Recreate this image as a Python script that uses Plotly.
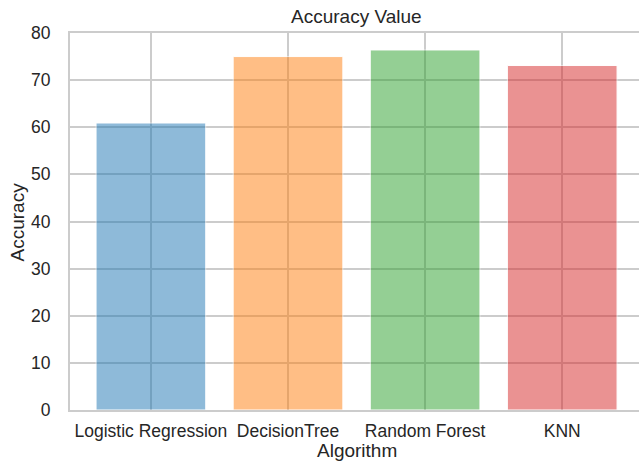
import plotly.graph_objects as go

algorithms = ["Logistic Regression", "DecisionTree", "Random Forest", "KNN"]
accuracy = [60.9, 75.0, 76.4, 73.1]
bar_colors = ["#1f77b4", "#ff7f0e", "#2ca02c", "#d62728"]
y_ticks = [0, 10, 20, 30, 40, 50, 60, 70, 80]

TEXT = "#262626"
GRID = "#cccccc"
FONT = "Liberation Sans, Arial, sans-serif"

fig = go.Figure(
    go.Bar(
        x=algorithms,
        y=accuracy,
        width=0.8,
        opacity=0.5,
        marker=dict(color=bar_colors, line=dict(color="white", width=1)),
    )
)

fig.update_layout(
    width=639,
    height=461,
    margin=dict(l=70, r=0, t=33, b=51),
    plot_bgcolor="white",
    paper_bgcolor="white",
    font=dict(family=FONT, color=TEXT, size=17.5),
    showlegend=False,
    annotations=[
        dict(text="Accuracy Value", xref="paper", yref="paper", x=0.504, y=1.0432,
             xanchor="center", yanchor="middle", showarrow=False,
             font=dict(size=19, color=TEXT, family=FONT)),
        dict(text="Algorithm", xref="paper", yref="paper", x=0.504, y=-0.107,
             xanchor="center", yanchor="middle", showarrow=False,
             font=dict(size=19, color=TEXT, family=FONT)),
        dict(text="Accuracy", xref="paper", yref="paper", x=-0.0914, y=0.5,
             xanchor="center", yanchor="middle", textangle=-90, showarrow=False,
             font=dict(size=19, color=TEXT, family=FONT)),
    ],
)

fig.update_xaxes(
    type="category",
    range=[-0.59, 3.56],
    showgrid=True,
    gridcolor=GRID,
    gridwidth=1.5,
    showline=True,
    linecolor=GRID,
    linewidth=2,
    mirror=True,
    ticks="",
    ticklabelstandoff=4,
    tickfont=dict(size=17.5, color=TEXT, family=FONT),
)

fig.update_yaxes(
    range=[0, 80],
    tickvals=y_ticks,
    showgrid=True,
    gridcolor=GRID,
    gridwidth=1.5,
    showline=True,
    linecolor=GRID,
    linewidth=2,
    zeroline=False,
    ticks="",
    ticklabelstandoff=14,
    tickfont=dict(size=17.5, color=TEXT, family=FONT),
)

fig.write_html(
    "out.html",
    config={"displayModeBar": False},
    post_script="document.body.style.margin='0';document.body.style.padding='0';",
)
